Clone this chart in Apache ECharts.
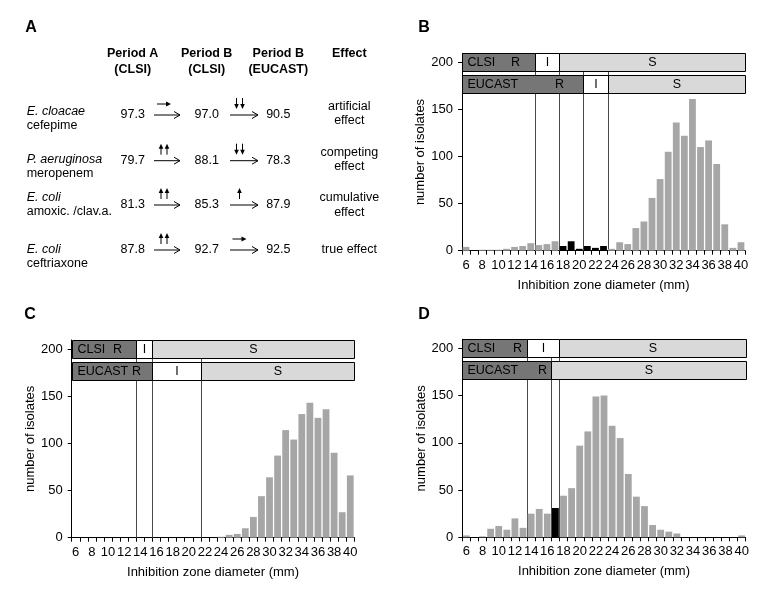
<!DOCTYPE html>
<html><head><meta charset="utf-8">
<script src="https://cdn.jsdelivr.net/npm/echarts@6/dist/echarts.min.js"></script>
<style>html,body{margin:0;padding:0;background:#fff}#c{width:775px;height:602px}</style>
</head><body><div id="c"></div>
<script>
// ---------- DATA ----------
const cats = ['6','7','8','9','10','11','12','13','14','15','16','17','18','19','20','21','22','23','24','25','26','27','28','29','30','31','32','33','34','35','36','37','38','39','40'];
const yTicks = [0, 50, 100, 150, 200];

const valuesB = [4,0,1,1,1,2,4,5,8,6,7,10,5,10,2,5,3,5,2,9,7,24,31,56,76,105,136,122,161,110,117,92,28,3,9];
const valuesC = [0,0,0,0,0,0,0,0,0,0,0,0,0,0,0,0,0,0,1,3,4,10,22,44,64,87,114,104,131,143,127,136,90,27,66];
const valuesD = [2,0,1,9,12,8,20,10,25,30,25,31,44,52,97,112,149,150,118,105,67,43,33,13,8,6,4,0,0,0,0,0,0,0,2];

const blackB = ['18','19','20','21','22','23'];
const blackC = [];
const blackD = ['17'];

// breakpoint bands: [category, from, to]
const clsiB   = [['R','6','14'],['I','15','17'],['S','18','40']];
const eucastB = [['R','6','20'],['I','21','23'],['S','24','40']];
const clsiC   = [['R','6','13'],['I','14','15'],['S','16','40']];
const eucastC = [['R','6','15'],['I','16','21'],['S','22','40']];
const clsiD   = [['R','6','13'],['I','14','17'],['S','18','40']];
const eucastD = [['R','6','16'],['S','17','40']];

// panel A table
const headers = [['Period A','(CLSI)'],['Period B','(CLSI)'],['Period B','(EUCAST)'],['Effect']];
const organisms = ['E. cloacae','P. aeruginosa','E. coli','E. coli'];
const drugs = ['cefepime','meropenem','amoxic. /clav.a.','ceftriaxone'];
const periodA = ['97.3','79.7','81.3','87.8'];
const periodBclsi = ['97.0','88.1','85.3','92.7'];
const periodBeucast = ['90.5','78.3','87.9','92.5'];
const trend1 = ['→','↑↑','↑↑','↑↑'];
const trend2 = ['↓↓','↓↓','↑','→'];
const effects = [['artificial','effect'],['competing','effect'],['cumulative','effect'],['true effect']];

// ---------- STYLE / LAYOUT ----------
const FONT = '"Liberation Sans", Arial, Helvetica, sans-serif';
const GRAY = '#a6a6a6';
const FILL = {R:'#767676', I:'#ffffff', S:'#d9d9d9'};
const SYS = ['CLSI','EUCAST'];

const chart = echarts.init(document.getElementById('c'), null, {renderer:'canvas'});

function bandRender(clsi, eucast, rInset) {
  const list = [];
  clsi.forEach(b => list.push({row:0, b}));
  eucast.forEach(b => list.push({row:1, b}));
  const fn = function(params, api) {
    const it = list[params.dataIndex];
    const b = it.b;
    const w = api.size([1,0])[0];
    const x0 = Math.round(api.coord([cats.indexOf(b[1]), 0])[0] - w/2) + 0.5;
    const x1 = Math.round(api.coord([cats.indexOf(b[2]), 0])[0] + w/2) + 0.5;
    const y200 = api.coord([0, 200])[1];
    const top = Math.round(it.row === 0 ? y200 - 9 : y200 + 13) + 0.5;
    const h = 18;
    const cy = top + h/2;
    const ch = [{type:'rect', shape:{x:x0, y:top, width:x1-x0, height:h},
      style:{fill:FILL[b[0]], stroke:'#000', lineWidth:1}}];
    const ts = {fontFamily:FONT, fontSize:12.5, fill:'#000', verticalAlign:'middle'};
    if (b[0] === 'R') {
      ch.push({type:'text', x:x0+5, y:cy, style:Object.assign({text:SYS[it.row], align:'left'}, ts)});
      ch.push({type:'text', x:x1-rInset[it.row], y:cy, style:Object.assign({text:'R', align:'center'}, ts)});
    } else {
      ch.push({type:'text', x:(x0+x1)/2, y:cy, style:Object.assign({text:b[0], align:'center'}, ts)});
    }
    return {type:'group', children:ch};
  };
  return {fn, n:list.length};
}

function lineRender(clsi, eucast) {
  const set = [];
  clsi.concat(eucast).forEach(b => { if (b[2] !== cats[cats.length-1] && set.indexOf(b[2]) < 0) set.push(b[2]); });
  const fn = function(params, api) {
    const c = set[params.dataIndex];
    const w = api.size([1,0])[0];
    const x = Math.round(api.coord([cats.indexOf(c), 0])[0] + w/2) + 0.5;
    const y200 = api.coord([0, 200])[1];
    const y0 = api.coord([0, 0])[1];
    return {type:'line', shape:{x1:x, y1:y200+9, x2:x, y2:y0},
      style:{stroke:'#4a4a4a', lineWidth:1}};
  };
  return {fn, n:set.length};
}

const panels = [
  {vals:valuesB, black:blackB, clsi:clsiB, eucast:eucastB, rInset:[20,24],
   grid:{left:462, top:53.3, width:283, height:197.4}},
  {vals:valuesC, black:blackC, clsi:clsiC, eucast:eucastC, rInset:[19,16],
   grid:{left:71.7, top:340, width:282.6, height:197.7}},
  {vals:valuesD, black:blackD, clsi:clsiD, eucast:eucastD, rInset:[10,9],
   grid:{left:462.3, top:339.3, width:283.4, height:198}}
];

const grids = [], xAxes = [], yAxes = [], series = [];
panels.forEach((p, i) => {
  grids.push(p.grid);
  xAxes.push({type:'category', gridIndex:i, data:cats, boundaryGap:true,
    axisLine:{show:true, lineStyle:{color:'#000', width:1}},
    axisTick:{show:true, interval:0, length:4, lineStyle:{color:'#000'}},
    axisLabel:{interval:1, color:'#000', fontSize:13, fontFamily:FONT, margin:8},
    splitLine:{show:false},
    name:'Inhibition zone diameter (mm)', nameLocation:'middle', nameGap:28,
    nameTextStyle:{color:'#000', fontSize:13, fontFamily:FONT}});
  yAxes.push({type:'value', gridIndex:i, min:0, max:209.5, interval:50,
    axisLine:{show:true, lineStyle:{color:'#000', width:1}},
    axisTick:{show:true, length:4, lineStyle:{color:'#000'}, customValues:yTicks},
    axisLabel:{color:'#000', fontSize:13, fontFamily:FONT, margin:9, customValues:yTicks},
    splitLine:{show:false},
    name:'number of isolates', nameLocation:'middle', nameGap:31, nameRotate:90,
    nameTextStyle:{color:'#000', fontSize:13, fontFamily:FONT}});
  const lr = lineRender(p.clsi, p.eucast);
  series.push({type:'custom', xAxisIndex:i, yAxisIndex:i, z:1, silent:true,
    renderItem:lr.fn, data:Array.from({length:lr.n}, () => [0, 0])});
  series.push({type:'bar', xAxisIndex:i, yAxisIndex:i, z:2, barCategoryGap:'16%', silent:true,
    data:p.vals.map((v, k) => ({value:v, itemStyle:{color: p.black.indexOf(cats[k]) >= 0 ? '#000' : GRAY}}))});
  const br = bandRender(p.clsi, p.eucast, p.rInset);
  series.push({type:'custom', xAxisIndex:i, yAxisIndex:i, z:3, silent:true,
    renderItem:br.fn, data:Array.from({length:br.n}, () => [0, 200])});
});

// ---------- PANEL A (table) ----------
const G = [];
function T(x, y, s, o) {
  G.push({type:'text', x, y, silent:true, style:Object.assign({text:s, fontFamily:FONT, fontSize:12.5,
    fill:'#000', align:'center', verticalAlign:'middle'}, o || {})});
}
function L(x1, y1, x2, y2) { G.push({type:'line', silent:true, shape:{x1,y1,x2,y2}, style:{stroke:'#000', lineWidth:1}}); }
function P(pts) { G.push({type:'polygon', silent:true, shape:{points:pts}, style:{fill:'#000'}}); }
function longArrow(xs, xe, y) {
  L(xs, y, xe, y);
  G.push({type:'polyline', silent:true, shape:{points:[[xe-6, y-3.5],[xe, y],[xe-6, y+3.5]]}, style:{stroke:'#000', fill:null, lineWidth:1}});
}
function vArrow(cx, yTop, yBot, up) {
  if (up) { L(cx, yBot, cx, yTop+4); P([[cx-2.3, yTop+5],[cx+2.3, yTop+5],[cx, yTop]]); }
  else { L(cx, yTop, cx, yBot-4); P([[cx-2.3, yBot-5],[cx+2.3, yBot-5],[cx, yBot]]); }
}
function smallArrow(sym, cx, y) {
  if (sym === '→') { L(cx-7, y, cx+3, y); P([[cx+2, y-2.5],[cx+2, y+2.5],[cx+7, y]]); return; }
  const up = sym.indexOf('↑') >= 0;
  const n = sym.length;
  const top = y - 6, bot = y + 5;
  if (n === 2) { vArrow(cx-3, top, bot, up); vArrow(cx+3, top, bot, up); }
  else vArrow(cx, top, bot, up);
}

const colX = [132.7, 206.7, 278.3, 349.3];
const rowY = [115, 160.7, 205, 250];
const nameY = [[111.7, 126], [160, 173.5], [197.3, 211.7], [250, 264]];
const effY = [[106.7, 120.7], [152.7, 166.7], [197.3, 212.3], [250]];

T(31, 28, 'A', {fontSize:16, fontWeight:'bold'});
T(424, 28, 'B', {fontSize:16, fontWeight:'bold'});
T(30, 315, 'C', {fontSize:16, fontWeight:'bold'});
T(424, 315, 'D', {fontSize:16, fontWeight:'bold'});

headers.forEach((h, j) => { h.forEach((s, k) => T(colX[j], 53.3 + k*16.7, s, {fontWeight:'bold'})); });
for (let r = 0; r < 4; r++) {
  T(26.7, nameY[r][0], organisms[r], {align:'left', fontStyle:'italic'});
  T(26.7, nameY[r][1], drugs[r], {align:'left'});
  T(colX[0], rowY[r], periodA[r]);
  T(colX[1], rowY[r], periodBclsi[r]);
  T(colX[2], rowY[r], periodBeucast[r]);
  effects[r].forEach((s, k) => T(colX[3], effY[r][k], s));
  longArrow(154, 180, rowY[r]);
  longArrow(230, 258, rowY[r]);
  smallArrow(trend1[r], 164, rowY[r] - 11);
  smallArrow(trend2[r], 239.5, rowY[r] - 11);
}

chart.setOption({
  animation:false,
  backgroundColor:'#fff',
  grid:grids, xAxis:xAxes, yAxis:yAxes, series:series,
  graphic:G
});
</script></body></html>
